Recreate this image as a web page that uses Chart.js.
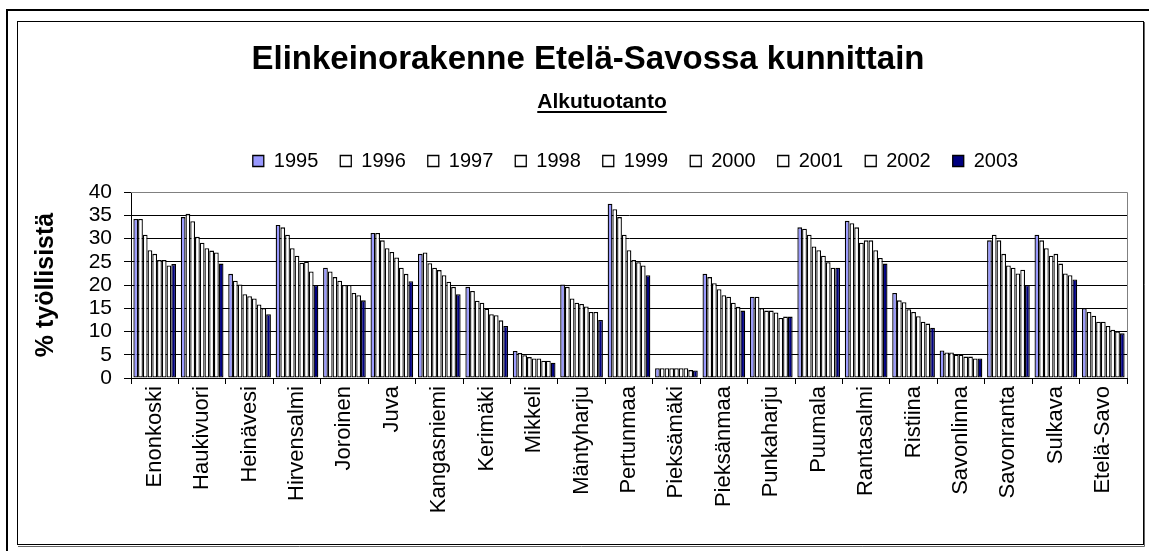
<!DOCTYPE html>
<html>
<head>
<meta charset="utf-8">
<script src="https://cdn.jsdelivr.net/npm/chart.js@4"></script>
<style>
  html, body { margin: 0; padding: 0; background: #fff; }
  canvas { display: block; }
</style>
</head>
<body>
<canvas id="chart" width="1149" height="551"></canvas>
<script>
// kunnat (x-akseli)
const municipalities = ['Enonkoski', 'Haukivuori', 'Heinävesi', 'Hirvensalmi', 'Joroinen', 'Juva',
  'Kangasniemi', 'Kerimäki', 'Mikkeli', 'Mäntyharju', 'Pertunmaa', 'Pieksämäki', 'Pieksänmaa',
  'Punkaharju', 'Puumala', 'Rantasalmi', 'Ristiina', 'Savonlinna', 'Savonranta', 'Sulkava', 'Etelä-Savo'];

const years = ['1995', '1996', '1997', '1998', '1999', '2000', '2001', '2002', '2003'];

// alkutuotannon osuus työllisistä, %
const v1995 = [34.2, 34.6, 22.4, 32.9, 23.7, 31.2, 26.7, 19.6, 5.8, 20.1, 37.5, 2.1, 22.4, 17.5, 32.4, 33.8, 18.3, 5.9, 29.6, 30.8, 15.0];
const v1996 = [34.2, 35.3, 20.9, 32.4, 22.9, 31.2, 27.0, 18.7, 5.4, 19.6, 36.3, 2.1, 21.7, 17.5, 32.1, 33.3, 16.7, 5.5, 30.8, 29.6, 14.2];
const v1997 = [30.8, 33.7, 20.1, 30.8, 21.7, 29.6, 24.7, 16.6, 4.9, 17.1, 34.6, 2.1, 20.4, 15.0, 30.8, 32.4, 16.3, 5.5, 29.6, 27.9, 13.4];
const v1998 = [27.5, 30.4, 18.0, 27.9, 20.9, 27.9, 23.7, 16.2, 4.5, 16.2, 30.8, 2.1, 19.1, 14.5, 28.3, 29.1, 14.8, 5.0, 26.7, 26.3, 12.1];
const v1999 = [26.7, 29.1, 17.6, 26.3, 20.0, 27.1, 23.2, 14.9, 4.2, 15.9, 27.5, 2.1, 17.8, 14.5, 27.5, 29.6, 14.2, 5.0, 24.2, 26.7, 12.1];
const v2000 = [25.4, 27.9, 17.1, 24.8, 20.0, 25.9, 22.1, 13.7, 4.2, 15.4, 25.4, 2.1, 17.5, 14.1, 26.3, 29.6, 13.3, 4.6, 23.7, 24.6, 11.2];
const v2001 = [25.4, 27.4, 15.8, 25.0, 18.3, 23.7, 20.7, 13.5, 3.7, 14.2, 24.9, 2.1, 16.2, 12.9, 24.9, 27.5, 12.1, 4.6, 22.5, 22.5, 10.4];
const v2002 = [24.2, 27.0, 15.0, 22.9, 17.8, 22.4, 19.6, 12.4, 3.7, 14.2, 24.2, 1.7, 15.3, 13.2, 23.7, 25.8, 11.7, 4.2, 23.3, 22.1, 10.0];
const v2003 = [24.5, 24.6, 13.7, 20.0, 16.7, 20.8, 18.0, 11.2, 3.3, 12.5, 22.1, 1.6, 14.5, 13.2, 23.7, 24.6, 10.8, 4.2, 20.0, 21.2, 9.6];

const yTicks = [0, 5, 10, 15, 20, 25, 30, 35, 40];

const seriesValues = [v1995, v1996, v1997, v1998, v1999, v2000, v2001, v2002, v2003];
const seriesColors = ['#9999FF', '#FFFFFF', '#FFFFFF', '#FFFFFF', '#FFFFFF', '#FFFFFF', '#FFFFFF', '#FFFFFF', '#000080'];

const FONT = "'Liberation Sans', Arial, sans-serif";

// kehykset, otsikot ja kuva-alueen harmaa reuna
const framePlugin = {
  id: 'frame',
  beforeDraw(chart) {
    const ctx = chart.ctx;
    ctx.save();
    ctx.fillStyle = '#fff';
    ctx.fillRect(0, 0, chart.width, chart.height);
    ctx.strokeStyle = '#000';
    ctx.lineWidth = 2;
    ctx.strokeRect(7, 10, 1200, 600);
    ctx.lineWidth = 1;
    ctx.strokeRect(17.5, 21.5, 1126, 523);
    ctx.strokeStyle = '#666';
    ctx.beginPath();
    ctx.moveTo(1144.5, 22);
    ctx.lineTo(1144.5, 546.5);
    ctx.lineTo(18, 546.5);
    ctx.stroke();
    ctx.restore();
  },
  afterLayout(chart) {
    // Excelin selite on hieman oikealla ja ylempänä
    chart.legend.left += 62;
    chart.legend.right += 62;
    chart.legend.top -= 11;
    chart.legend.bottom -= 11;
  },
  afterDraw(chart) {
    const ctx = chart.ctx;
    const a = chart.chartArea;
    ctx.save();
    ctx.strokeStyle = '#808080';
    ctx.lineWidth = 1;
    ctx.beginPath();
    ctx.moveTo(a.left, Math.round(a.top) + 0.5);
    ctx.lineTo(Math.round(a.right) + 0.5, Math.round(a.top) + 0.5);
    ctx.lineTo(Math.round(a.right) + 0.5, a.bottom);
    ctx.stroke();

    ctx.fillStyle = '#000';
    ctx.textAlign = 'center';
    ctx.textBaseline = 'alphabetic';
    ctx.font = 'bold 33px ' + FONT;
    ctx.fillText('Elinkeinorakenne Etelä-Savossa kunnittain', 588, 69);
    ctx.font = 'bold 21px ' + FONT;
    const sub = 'Alkutuotanto';
    ctx.fillText(sub, 602, 108);
    const w = ctx.measureText(sub).width;
    ctx.fillRect(602 - w / 2, 111, w, 2);
    ctx.restore();
  }
};

const datasets = years.map((y, i) => ({
  label: y,
  data: seriesValues[i],
  backgroundColor: seriesColors[i],
  borderColor: '#000',
  borderWidth: 1.3,
  borderSkipped: false,
  categoryPercentage: 0.9,
  barPercentage: 1.0
}));

new Chart(document.getElementById('chart'), {
  type: 'bar',
  data: { labels: municipalities, datasets: datasets },
  options: {
    responsive: false,
    animation: false,
    layout: { padding: { top: 140, left: 20, right: 22, bottom: 20 } },
    plugins: {
      title: { display: false },
      tooltip: { enabled: false },
      legend: {
        position: 'top',
        labels: {
          boxWidth: 11,
          boxHeight: 11,
          padding: 22,
          color: '#000',
          font: { family: FONT, size: 20 }
        }
      }
    },
    scales: {
      x: {
        grid: { display: true, drawOnChartArea: false, drawTicks: true, tickLength: 6, color: '#000', offset: true },
        border: { color: '#000', width: 1 },
        ticks: {
          color: '#000',
          minRotation: 90,
          maxRotation: 90,
          autoSkip: false,
          padding: 2,
          font: { family: FONT, size: 22 }
        },
        afterFit(scale) { scale.height = 153; }
      },
      y: {
        min: 0,
        max: 40,
        afterBuildTicks(scale) { scale.ticks = yTicks.map(v => ({ value: v })); },
        grid: {
          color: ctx => (ctx.tick && ctx.tick.value === 40 ? '#808080' : '#000'),
          tickColor: '#000',
          tickLength: 7,
          lineWidth: 1
        },
        border: { color: '#000', width: 1 },
        ticks: {
          color: '#000',
          autoSkip: false,
          padding: 12,
          font: { family: FONT, size: 21 }
        },
        title: {
          display: true,
          text: '% työllisistä',
          color: '#000',
          padding: { top: 11, bottom: 0 },
          font: { family: FONT, size: 25, weight: 'bold' }
        },
        afterFit(scale) { scale.width = 111; }
      }
    }
  },
  plugins: [framePlugin]
});
</script>
</body>
</html>
